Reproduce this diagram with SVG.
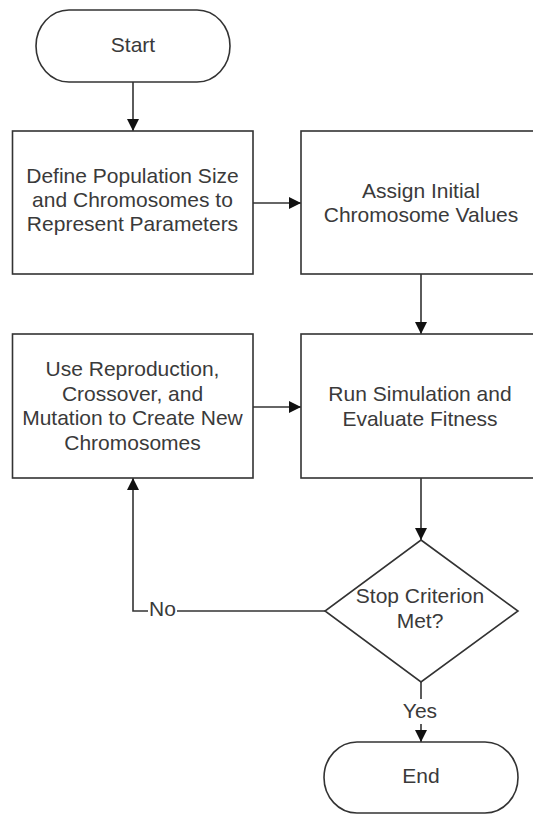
<svg xmlns="http://www.w3.org/2000/svg" width="533" height="815" viewBox="0 0 533 815">
<style>
.shape{fill:#ffffff;stroke:#333333;stroke-width:1.6}
.conn{fill:none;stroke:#333333;stroke-width:1.6}
.t{font-family:"Liberation Sans",Arial,sans-serif;font-size:21px;fill:#3a3a3a;text-anchor:middle}
</style>
<defs>
<marker id="arrow" markerUnits="userSpaceOnUse" markerWidth="13" markerHeight="12" refX="12" refY="6" orient="auto">
<path d="M0,0 L12,6 L0,12 z" fill="#111111"/>
</marker>
</defs>
<rect width="533" height="815" fill="#ffffff"/>
<g id="connectors">
<line class="conn" x1="133" y1="82" x2="133" y2="131" marker-end="url(#arrow)"/>
<line class="conn" x1="253" y1="203" x2="301" y2="203" marker-end="url(#arrow)"/>
<line class="conn" x1="421" y1="274" x2="421" y2="334" marker-end="url(#arrow)"/>
<line class="conn" x1="253" y1="407" x2="301" y2="407" marker-end="url(#arrow)"/>
<line class="conn" x1="421" y1="478" x2="421" y2="540" marker-end="url(#arrow)"/>
<line class="conn" x1="421" y1="682" x2="421" y2="742" marker-end="url(#arrow)"/>
<polyline class="conn" points="325,611 133,611 133,478" marker-end="url(#arrow)"/>
<rect x="148" y="600" width="29" height="20" fill="#ffffff"/>
<text class="t" x="162.5" y="616">No</text>
<rect x="400" y="699" width="40" height="25" fill="#ffffff"/>
<text class="t" x="420" y="718">Yes</text>
</g>
<g id="start">
<rect class="shape" x="36" y="10" width="194" height="72" rx="33" ry="36"/>
<text class="t" x="133" y="52">Start</text>
</g>
<g id="define">
<rect class="shape" x="12.5" y="131" width="240.5" height="143"/>
<text class="t" x="132.5" y="183">Define Population Size</text>
<text class="t" x="132.5" y="207">and Chromosomes to</text>
<text class="t" x="132.5" y="231">Represent Parameters</text>
</g>
<g id="assign">
<rect class="shape" x="301" y="131" width="241" height="143"/>
<text class="t" x="421" y="198">Assign Initial</text>
<text class="t" x="421" y="222">Chromosome Values</text>
</g>
<g id="reproduce">
<rect class="shape" x="12.5" y="334" width="240.5" height="144"/>
<text class="t" x="132.5" y="376">Use Reproduction,</text>
<text class="t" x="132.5" y="400.5">Crossover, and</text>
<text class="t" x="132.5" y="425">Mutation to Create New</text>
<text class="t" x="132.5" y="449.5">Chromosomes</text>
</g>
<g id="simulate">
<rect class="shape" x="301" y="334" width="241" height="144"/>
<text class="t" x="420" y="401">Run Simulation and</text>
<text class="t" x="420" y="426">Evaluate Fitness</text>
</g>
<g id="decision">
<polygon class="shape" points="421,540 518,611 421,682 325,611"/>
<text class="t" x="420" y="603">Stop Criterion</text>
<text class="t" x="420" y="628">Met?</text>
</g>
<g id="end">
<rect class="shape" x="324" y="742" width="194" height="71" rx="33" ry="35.5"/>
<text class="t" x="421" y="783">End</text>
</g>
</svg>
